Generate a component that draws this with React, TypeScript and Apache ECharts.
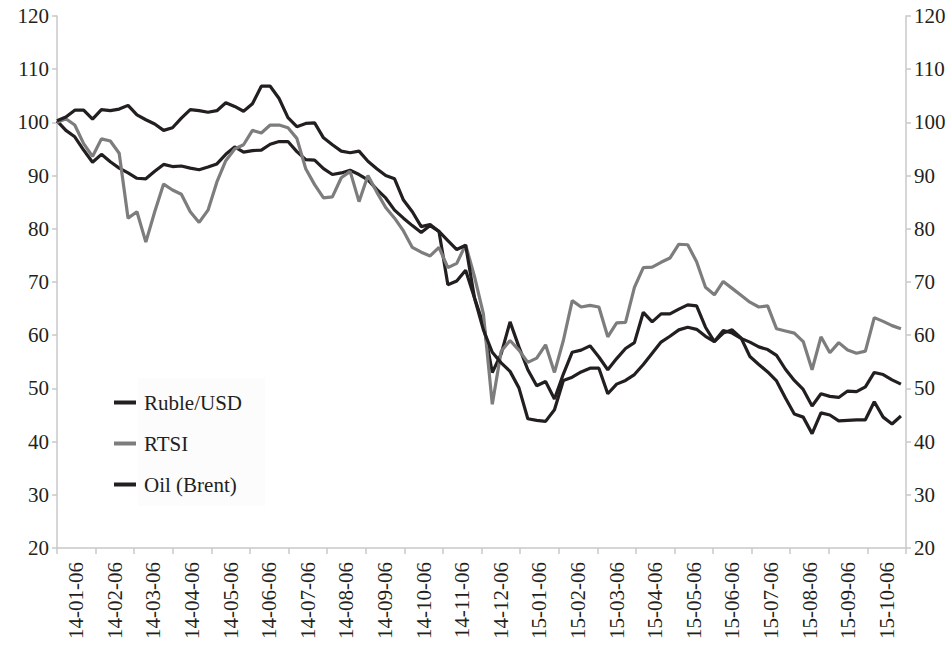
import React, { useEffect, useRef } from "react";
import * as echarts from "echarts";

// Monthly axis labels
const MONTH_LABELS = [
  "14-01-06", "14-02-06", "14-03-06", "14-04-06", "14-05-06", "14-06-06",
  "14-07-06", "14-08-06", "14-09-06", "14-10-06", "14-11-06", "14-12-06",
  "15-01-06", "15-02-06", "15-03-06", "15-04-06", "15-05-06", "15-06-06",
  "15-07-06", "15-08-06", "15-09-06", "15-10-06",
];

const SERIES_NAMES = ["Ruble/USD", "RTSI", "Oil (Brent)"];

// Weekly observations starting 2014-01-06 (index, 2014-01-06 = 100)
const RUBLE = [
  100.3, 98.5, 97.3, 94.8, 92.5, 94.0, 92.6, 91.4, 90.5, 89.5,
  89.4, 90.8, 92.1, 91.7, 91.8, 91.4, 91.1, 91.6, 92.2, 94.0,
  95.4, 94.4, 94.7, 94.8, 95.9, 96.4, 96.4, 94.5, 93.0, 92.9,
  91.3, 90.2, 90.5, 91.0, 90.2, 89.2, 87.4, 85.8, 83.5, 82.0,
  80.6, 79.3, 80.6, 79.5, 69.5, 70.2, 72.2, 67.0, 62.0, 53.0,
  56.5, 62.5, 57.8, 53.5, 50.5, 51.3, 48.0, 52.7, 56.8, 57.2,
  58.0, 55.9, 53.5, 55.6, 57.5, 58.6, 64.3, 62.5, 64.0, 64.0,
  64.9, 65.7, 65.5, 61.5, 58.8, 60.9, 60.4, 59.4, 58.7, 57.8,
  57.3, 56.2, 53.6, 51.5, 49.8, 46.7, 49.0, 48.5, 48.3, 49.5,
  49.4, 50.3, 53.0, 52.6, 51.6, 50.8,
];

const RTSI = [
  100.0, 100.7, 99.5, 96.0, 93.6, 96.9, 96.5, 94.2, 82.0, 83.2,
  77.5, 83.2, 88.4, 87.3, 86.5, 83.2, 81.2, 83.5, 88.8, 92.8,
  95.0, 95.8, 98.5, 98.0, 99.5, 99.5, 99.0, 97.0, 91.3, 88.3,
  85.8, 86.0, 89.6, 90.8, 85.1, 90.0, 86.9, 84.0, 82.0, 79.6,
  76.5, 75.6, 74.9, 76.5, 72.7, 73.5, 77.0, 71.0, 64.0, 47.0,
  57.0, 59.0, 57.2, 54.9, 55.7, 58.2, 53.0, 59.0, 66.5, 65.3,
  65.6, 65.3, 59.7, 62.3, 62.4, 69.0, 72.7, 72.8, 73.7, 74.5,
  77.1, 77.0, 73.8, 69.0, 67.6, 70.1, 68.8, 67.5, 66.2, 65.3,
  65.5, 61.2, 60.8, 60.4, 58.8, 53.5, 59.7, 56.7, 58.6, 57.2,
  56.6, 57.0, 63.3, 62.6, 61.8, 61.2,
];

const OIL = [
  100.3, 101.0, 102.3, 102.3, 100.6, 102.4, 102.2, 102.5, 103.2, 101.4,
  100.5, 99.7, 98.5, 99.0, 100.8, 102.4, 102.2, 101.9, 102.2, 103.7,
  103.0, 102.1, 103.5, 106.8, 106.8, 104.5, 100.9, 99.2, 99.8, 99.9,
  97.1, 95.8, 94.6, 94.3, 94.6, 92.7, 91.3, 90.0, 89.4, 85.4,
  83.2, 80.4, 80.8, 79.5, 77.8, 76.1, 76.9, 67.0, 61.0, 56.8,
  54.8, 53.2, 50.1, 44.3, 44.0, 43.8, 46.0, 51.5, 52.1, 53.1,
  53.8, 53.8, 49.0, 50.8, 51.5, 52.6, 54.5, 56.6, 58.7, 59.8,
  61.0, 61.5, 61.1, 59.8, 58.8, 60.4, 61.0, 59.5, 56.0, 54.5,
  53.1, 51.4, 48.2, 45.2, 44.6, 41.5, 45.4, 45.0, 43.9, 44.0,
  44.1, 44.1, 47.5, 44.6, 43.3, 44.8,
];

const START = Date.UTC(2014, 0, 6);
const END = Date.UTC(2015, 10, 6);
const DAY = 86400000;

const withDates = (vals: number[]) => vals.map((v, i) => [START + i * 7 * DAY, v]);

const FONT = "Liberation Serif";
const TEXT = "#231f20";
const AXIS = "#c8c8c8";

export default function App() {
  const ref = useRef<HTMLDivElement>(null);
  useEffect(() => {
    if (!ref.current) return;
    const chart = echarts.init(ref.current, undefined, { renderer: "svg" });
    const yAxisBase = {
      type: "value",
      min: 20,
      max: 120,
      interval: 10,
      splitLine: { show: false },
      axisLine: { show: true, lineStyle: { color: AXIS, width: 1.5 } },
      axisTick: { show: true, length: 5, lineStyle: { color: AXIS, width: 1.5 } },
      axisLabel: { color: TEXT, fontFamily: FONT, fontSize: 21, margin: 8 },
    };
    chart.setOption({
      animation: false,
      backgroundColor: "#ffffff",
      textStyle: { fontFamily: FONT },
      grid: { left: 57, right: 46, top: 16, bottom: 98, containLabel: false },
      graphic: [
        {
          type: "rect",
          left: 138,
          top: 378,
          shape: { width: 127, height: 128 },
          style: { fill: "#fcfcfc" },
          z: 0,
          silent: true,
        },
      ],
      legend: {
        data: SERIES_NAMES,
        orient: "vertical",
        left: 114,
        top: 392,
        padding: 0,
        itemWidth: 22,
        itemHeight: 4,
        itemGap: 20,
        icon: "rect",
        textStyle: { color: TEXT, fontFamily: FONT, fontSize: 21, padding: [0, 0, 0, 3] },
      },
      xAxis: [
        {
          type: "category",
          data: MONTH_LABELS,
          boundaryGap: true,
          position: "bottom",
          axisLine: { show: true, lineStyle: { color: AXIS, width: 1.5 } },
          axisTick: { show: true, length: 6, alignWithLabel: false, interval: 0, lineStyle: { color: AXIS, width: 1.5 } },
          axisLabel: { rotate: 90, interval: 0, margin: 14, color: TEXT, fontFamily: FONT, fontSize: 21 },
          splitLine: { show: false },
        },
        {
          type: "time",
          min: START,
          max: END,
          show: false,
          splitLine: { show: false },
        },
      ],
      yAxis: [
        { ...yAxisBase, position: "left" },
        { ...yAxisBase, position: "right" },
      ],
      series: [
        {
          name: SERIES_NAMES[0],
          type: "line",
          xAxisIndex: 1,
          yAxisIndex: 0,
          data: withDates(RUBLE),
          symbol: "none",
          lineStyle: { color: "#231f20", width: 3.2 },
          itemStyle: { color: "#231f20" },
        },
        {
          name: SERIES_NAMES[1],
          type: "line",
          xAxisIndex: 1,
          yAxisIndex: 0,
          data: withDates(RTSI),
          symbol: "none",
          lineStyle: { color: "#7d7d7d", width: 3.2 },
          itemStyle: { color: "#7d7d7d" },
        },
        {
          name: SERIES_NAMES[2],
          type: "line",
          xAxisIndex: 1,
          yAxisIndex: 0,
          data: withDates(OIL),
          symbol: "none",
          lineStyle: { color: "#231f20", width: 3.2 },
          itemStyle: { color: "#231f20" },
        },
      ],
    });
    return () => chart.dispose();
  }, []);
  return (
    <div
      ref={ref}
      style={{ position: "fixed", left: 0, top: 0, width: 952, height: 646, background: "#fff" }}
    />
  );
}
